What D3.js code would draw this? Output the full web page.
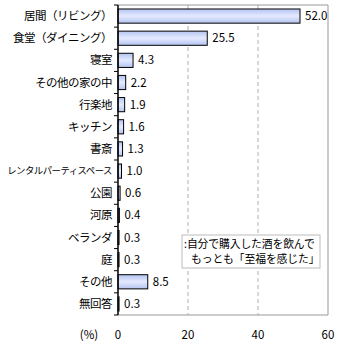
<!DOCTYPE html>
<html><head><meta charset="utf-8">
<script src="https://cdn.jsdelivr.net/npm/d3@7"></script>
<style>body{margin:0;background:#fff}svg{display:block}</style>
</head><body>
<script>
const categories = ["居間（リビング）","食堂（ダイニング）","寝室","その他の家の中","行楽地","キッチン","書斎","レンタルパーティスペース","公園","河原","ベランダ","庭","その他","無回答"];
const values = [52.0,25.5,4.3,2.2,1.9,1.6,1.3,1.0,0.6,0.4,0.3,0.3,8.5,0.3];
const xTicks = [0,20,40,60];
const legendLines = [":自分で購入した酒を飲んで","もっとも「至福を感じた」"];
const unitLabel = "(%)";

const W=340,H=345, L=118, R=328, T=5, B=315;
const font = "'Noto Sans CJK JP', sans-serif";
const svg = d3.select("body").append("svg").attr("width",W).attr("height",H);
const defs = svg.append("defs");
const g = defs.append("linearGradient").attr("id","bg").attr("x1",0).attr("y1",0).attr("x2",0).attr("y2",1);
g.append("stop").attr("offset","0%").attr("stop-color","#b4c4f0");
g.append("stop").attr("offset","50%").attr("stop-color","#e4eaff");
g.append("stop").attr("offset","100%").attr("stop-color","#b4c4f0");

const x = d3.scaleLinear().domain([0,60]).range([L,R]);
const y = d3.scaleBand().domain(categories).range([T,B]).paddingInner(0.36).paddingOuter(0.18);
const yb = d3.scaleBand().domain(categories).range([T,B]);

// gridlines
svg.selectAll("line.grid").data(xTicks.filter(d=>d>0&&d<60)).enter().append("line")
  .attr("x1",d=>x(d)).attr("x2",d=>x(d)).attr("y1",T).attr("y2",B)
  .attr("stroke","#b0b0b0").attr("stroke-dasharray","4,3");
// frame top/right/bottom
svg.append("path").attr("d",`M${L},${T}H${R}V${B}H${L}`).attr("fill","none").attr("stroke","#999");

// bars
svg.selectAll("rect.bar").data(values).enter().append("rect")
  .attr("x",x(0)).attr("y",(d,i)=>y(categories[i]))
  .attr("width",d=>x(d)-x(0)).attr("height",y.bandwidth())
  .attr("fill","url(#bg)").attr("stroke","#000").attr("stroke-width",1);

// value labels
svg.selectAll("text.val").data(values).enter().append("text")
  .attr("x",d=>x(d)+5).attr("y",(d,i)=>y(categories[i])+y.bandwidth()/2)
  .attr("dy","0.35em").attr("font-family",font).attr("font-size",11.5).attr("fill","#000")
  .text(d=>d.toFixed(1));

// left axis
svg.append("line").attr("x1",L).attr("x2",L).attr("y1",T).attr("y2",B).attr("stroke","#000").attr("stroke-width",1.5);
const bounds = categories.map(c=>yb(c)).concat([B]);
svg.selectAll("line.tk").data(bounds).enter().append("line")
  .attr("x1",L-4).attr("x2",L).attr("y1",d=>d).attr("y2",d=>d).attr("stroke","#000");
const labs = svg.selectAll("text.cat").data(categories).enter().append("text")
  .attr("x",L-6).attr("y",d=>yb(d)+yb.bandwidth()/2).attr("dy","0.35em")
  .attr("text-anchor","end").attr("font-family",font).attr("font-size",11.5).attr("fill","#000")
  .attr("letter-spacing",-0.5).text(d=>d);
labs.each(function(){
  const w=this.getComputedTextLength();
  if(w>106){ d3.select(this).attr("font-size",(11.5*106/w).toFixed(2)); }
});

// x tick labels
svg.selectAll("text.xt").data(xTicks).enter().append("text")
  .attr("x",d=>x(d)).attr("y",339).attr("text-anchor","middle")
  .attr("font-family",font).attr("font-size",11.5).text(d=>d);
svg.append("text").attr("x",89).attr("y",339).attr("text-anchor","middle")
  .attr("font-family",font).attr("font-size",11.5).text(unitLabel);

// legend
svg.append("rect").attr("x",182).attr("y",235).attr("width",138).attr("height",33)
  .attr("fill","#fff").attr("stroke","#bbb");
svg.selectAll("text.lg").data(legendLines).enter().append("text")
  .attr("x",(d,i)=>i===0?184:191).attr("y",(d,i)=>248+i*15).attr("font-family",font).attr("font-size",10.8)
  .attr("letter-spacing",-0.1).text(d=>d);
</script>
</body></html>
